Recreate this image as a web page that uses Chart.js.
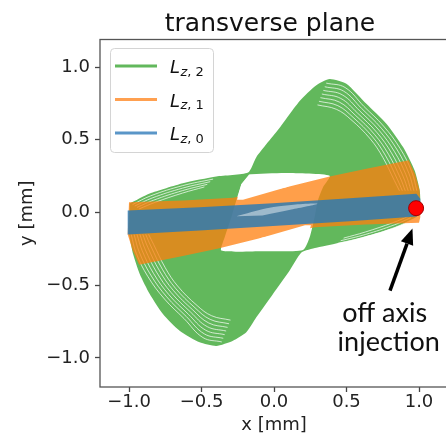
<!DOCTYPE html>
<html>
<head>
<meta charset="utf-8">
<script src="https://cdn.jsdelivr.net/npm/chart.js@4"></script>
<style>
  html, body { margin: 0; padding: 0; overflow: hidden; background: #fff; }
  canvas { display: block; }
</style>
</head>
<body>
<canvas id="chart" width="448" height="436"></canvas>
<script>
const xTicks = [-1.0, -0.5, 0.0, 0.5, 1.0];
const yTicks = [-1.0, -0.5, 0.0, 0.5, 1.0];
const seriesNames = ["Lz,2", "Lz,1", "Lz,0"];

// outer edge of the Lz,2 trajectory band
const greenX = [-0.995, -0.857, -0.628, -0.398, -0.179, -0.122, 0.039, 0.177, 0.292, 0.384, 0.499, 0.637, 0.775, 0.890, 0.970, 1.005, 1.009, 0.993, 0.867, 0.752, 0.522, 0.292, 0.189, 0.108, -0.007, -0.122, -0.191, -0.283, -0.398, -0.513, -0.651, -0.766, -0.857, -0.926, -0.972, -1.000];
const greenY = [0.062, 0.131, 0.202, 0.248, 0.275, 0.381, 0.583, 0.767, 0.875, 0.918, 0.886, 0.748, 0.611, 0.450, 0.289, 0.152, 0.060, -0.021, -0.090, -0.129, -0.193, -0.243, -0.275, -0.399, -0.560, -0.721, -0.824, -0.882, -0.918, -0.893, -0.813, -0.698, -0.560, -0.422, -0.285, -0.147];
// empty middle of Lz,2
const greenHoleX = [-0.172, 0.085, 0.384, 0.338, 0.303, 0.280, 0.246, 0.200, -0.099, -0.363, -0.340, -0.294, -0.260, -0.225];
const greenHoleY = [0.262, 0.271, 0.253, 0.174, 0.083, -0.032, -0.170, -0.257, -0.266, -0.262, -0.170, -0.032, 0.083, 0.197];

// gaps between neighbouring Lz,2 turns (upper right lobe)
const gapsUpRightX = [
  [0.36, 0.49, 0.62, 0.755, 0.87, 0.95, 0.985],
  [0.35, 0.48, 0.605, 0.74, 0.85, 0.93, 0.965],
  [0.34, 0.47, 0.59, 0.725, 0.83, 0.91, 0.945],
  [0.33, 0.46, 0.575, 0.71, 0.81, 0.89, 0.925],
  [0.32, 0.45, 0.56, 0.695, 0.79, 0.87, 0.905],
  [0.31, 0.44, 0.545, 0.68, 0.77, 0.85, 0.885],
  [0.30, 0.43, 0.53, 0.665, 0.75, 0.83, 0.865],
];
const gapsUpRightY = [
  [0.89, 0.86, 0.73, 0.595, 0.44, 0.28, 0.15],
  [0.865, 0.835, 0.715, 0.58, 0.43, 0.27, 0.15],
  [0.84, 0.81, 0.70, 0.565, 0.42, 0.26, 0.15],
  [0.815, 0.785, 0.685, 0.55, 0.41, 0.25, 0.15],
  [0.79, 0.76, 0.67, 0.535, 0.40, 0.24, 0.15],
  [0.765, 0.735, 0.655, 0.52, 0.39, 0.23, 0.15],
  [0.74, 0.71, 0.64, 0.505, 0.38, 0.22, 0.15],
];
// lower left lobe
const gapsLowLeftX = [
  [-0.36, -0.49, -0.62, -0.755, -0.87, -0.95, -0.985],
  [-0.35, -0.48, -0.605, -0.74, -0.85, -0.93, -0.965],
  [-0.34, -0.47, -0.59, -0.725, -0.83, -0.91, -0.945],
  [-0.33, -0.46, -0.575, -0.71, -0.81, -0.89, -0.925],
  [-0.32, -0.45, -0.56, -0.695, -0.79, -0.87, -0.905],
  [-0.31, -0.44, -0.545, -0.68, -0.77, -0.85, -0.885],
  [-0.30, -0.43, -0.53, -0.665, -0.75, -0.83, -0.865],
];
const gapsLowLeftY = [
  [-0.89, -0.86, -0.73, -0.595, -0.44, -0.28, -0.15],
  [-0.865, -0.835, -0.715, -0.58, -0.43, -0.27, -0.15],
  [-0.84, -0.81, -0.70, -0.565, -0.42, -0.26, -0.15],
  [-0.815, -0.785, -0.685, -0.55, -0.41, -0.25, -0.15],
  [-0.79, -0.76, -0.67, -0.535, -0.40, -0.24, -0.15],
  [-0.765, -0.735, -0.655, -0.52, -0.39, -0.23, -0.15],
  [-0.74, -0.71, -0.64, -0.505, -0.38, -0.22, -0.15],
];
// upper left and lower right edges
const gapsUpLeftX = [
  [-0.975, -0.85, -0.63, -0.42],
  [-0.96, -0.84, -0.63, -0.44],
  [-0.945, -0.83, -0.63, -0.46],
  [-0.93, -0.82, -0.63, -0.48],
];
const gapsUpLeftY = [
  [0.055, 0.115, 0.185, 0.23],
  [0.045, 0.10, 0.168, 0.212],
  [0.035, 0.085, 0.151, 0.194],
  [0.025, 0.07, 0.134, 0.176],
];
const gapsLowRightX = [
  [0.975, 0.85, 0.63, 0.42],
  [0.96, 0.84, 0.63, 0.44],
  [0.945, 0.83, 0.63, 0.46],
  [0.93, 0.82, 0.63, 0.48],
];
const gapsLowRightY = [
  [-0.055, -0.115, -0.185, -0.23],
  [-0.045, -0.10, -0.168, -0.212],
  [-0.035, -0.085, -0.151, -0.194],
  [-0.025, -0.07, -0.134, -0.176],
];

// Lz,1 band
const orangeX = [-1.000, -0.628, -0.283, 0.085, 0.384, 0.637, 0.930, 0.975, 1.005, 1.009, 1.000, 0.628, 0.283, -0.085, -0.384, -0.637, -0.930, -0.975, -1.009];
const orangeY = [0.071, 0.083, 0.101, 0.174, 0.248, 0.301, 0.360, 0.260, 0.150, -0.032, -0.071, -0.083, -0.101, -0.174, -0.248, -0.301, -0.360, -0.260, -0.152];
const orangeGapTopX = [-0.168, 0.269, 0.085, -0.214, -0.255, -0.225];
const orangeGapTopY = [0.259, 0.257, 0.174, 0.087, 0.087, 0.193];
const orangeGapBotX = [0.168, -0.269, -0.085, 0.214, 0.255, 0.225];
const orangeGapBotY = [-0.259, -0.257, -0.174, -0.087, -0.087, -0.193];

// Lz,0 band
const blueX = [-1.009, -0.513, -0.007, 0.522, 0.982, 1.009, 1.009, 0.982, 0.522, -0.007, -0.513, -1.009];
const blueY = [0.014, 0.037, 0.064, 0.099, 0.129, 0.094, 0.002, -0.028, -0.060, -0.092, -0.124, -0.152];
// thin open streak of Lz,0 inside the hole
const blueGapX = [-0.26, -0.05, 0.15, 0.30, 0.12, -0.08];
const blueGapY = [-0.025, 0.030, 0.055, 0.060, 0.020, -0.020];

// injection point and its note
const injX = [0.98];
const injY = [0.03];
const arrowFrom = [0.80, -0.537];
const arrowTo = [0.955, -0.11];
const noteLines = ["off axis", "injection"];
const noteX = [0.763, 0.791];
const noteY = [-0.696, -0.895];

const greenCol = "rgb(98, 184, 92)";
const orangeCol = "rgba(255, 127, 14, 0.75)";
const blueCol = "rgba(40, 122, 182, 0.82)";
const gapCol = "rgba(255, 255, 255, 0.7)";
const legendCols = ["rgb(98, 184, 92)", "rgb(255, 160, 80)", "rgb(90, 150, 200)"];

const pts = (xs, ys) => xs.map((v, i) => ({ x: v, y: ys[i] }));
const shape = (xs, ys, col, tension, order) => ({
  data: pts(xs, ys),
  backgroundColor: col,
  borderWidth: 0,
  pointRadius: 0,
  fill: "shape",
  tension: tension,
  order: order,
});
const gapLines = (xs, ys) => xs.map((row, i) => ({
  data: pts(row, ys[i]),
  borderColor: gapCol,
  borderWidth: 1,
  pointRadius: 0,
  fill: false,
  tension: 0.4,
  order: 9,
}));
const fmt = (v) => (v < 0 ? "\u2212" : "") + Math.abs(v).toFixed(1);
const noPad = (s) => { s.paddingTop = 0; s.paddingBottom = 0; s.paddingLeft = 0; s.paddingRight = 0; };

const overlay = {
  id: "overlay",
  afterDatasetsDraw(chart) {
    const { ctx, scales: { x, y }, chartArea: a } = chart;
    ctx.save();
    // arrow
    const x0 = x.getPixelForValue(arrowFrom[0]), y0 = y.getPixelForValue(arrowFrom[1]);
    const x1 = x.getPixelForValue(arrowTo[0]), y1 = y.getPixelForValue(arrowTo[1]);
    const ang = Math.atan2(y1 - y0, x1 - x0);
    const hl = 16, hw = 6.5;
    const bx = x1 - hl * Math.cos(ang), by = y1 - hl * Math.sin(ang);
    ctx.strokeStyle = "#000";
    ctx.lineWidth = 3.5;
    ctx.beginPath();
    ctx.moveTo(x0, y0);
    ctx.lineTo(bx, by);
    ctx.stroke();
    ctx.fillStyle = "#000";
    ctx.beginPath();
    ctx.moveTo(x1, y1);
    ctx.lineTo(bx + hw * Math.sin(ang), by - hw * Math.cos(ang));
    ctx.lineTo(bx - hw * Math.sin(ang), by + hw * Math.cos(ang));
    ctx.closePath();
    ctx.fill();
    // note
    ctx.font = '22px Lato';
    let s = 102 / ctx.measureText(noteLines[1]).width * 22;
    ctx.font = s.toFixed(1) + 'px Lato';
    ctx.fillStyle = "#111";
    ctx.textAlign = "center";
    ctx.textBaseline = "middle";
    noteLines.forEach((t, i) => ctx.fillText(t, x.getPixelForValue(noteX[i]), y.getPixelForValue(noteY[i])));
    // frame
    ctx.strokeStyle = "#555";
    ctx.lineWidth = 1.3;
    ctx.strokeRect(a.left, a.top, a.right - a.left, a.bottom - a.top);
    ctx.restore();
  },
  afterDraw(chart) {
    const { ctx } = chart;
    ctx.save();
    // title
    ctx.fillStyle = "#111";
    ctx.font = '25px "DejaVu Sans"';
    ctx.textAlign = "center";
    ctx.textBaseline = "alphabetic";
    ctx.fillText("transverse plane", 270, 30.7);
    // legend
    const lx = 110, ly = 48, lw = 103, lh = 104;
    ctx.fillStyle = "rgba(255,255,255,0.85)";
    ctx.strokeStyle = "#d4d4d4";
    ctx.lineWidth = 1;
    ctx.beginPath();
    ctx.roundRect(lx + 0.5, ly + 0.5, lw, lh, 4);
    ctx.fill();
    ctx.stroke();
    seriesNames.forEach((name, i) => {
      const yy = 66 + i * 33.5;
      ctx.strokeStyle = legendCols[i];
      ctx.lineWidth = 3;
      ctx.beginPath();
      ctx.moveTo(115, yy);
      ctx.lineTo(157, yy);
      ctx.stroke();
      ctx.fillStyle = "#111";
      ctx.textAlign = "left";
      ctx.font = 'italic 18px "DejaVu Sans"';
      ctx.fillText(name[0], 170, yy + 7.3);
      let px = 170 + ctx.measureText(name[0]).width + 0.5;
      ctx.font = 'italic 13px "DejaVu Sans"';
      ctx.fillText(name[1], px, yy + 9.5);
      px += ctx.measureText(name[1]).width;
      ctx.font = '13px "DejaVu Sans"';
      ctx.fillText(", " + name[3], px, yy + 9.5);
    });
    ctx.restore();
  },
};

new Chart(document.getElementById("chart"), {
  type: "line",
  data: {
    datasets: [
      shape(greenX, greenY, greenCol, 0.2, 10),
      ...gapLines(gapsUpRightX, gapsUpRightY),
      ...gapLines(gapsLowLeftX, gapsLowLeftY),
      ...gapLines(gapsUpLeftX, gapsUpLeftY),
      ...gapLines(gapsLowRightX, gapsLowRightY),
      shape(greenHoleX, greenHoleY, "#fff", 0.2, 8),
      shape(orangeX, orangeY, orangeCol, 0, 7),
      shape(orangeGapTopX, orangeGapTopY, "#fff", 0, 6),
      shape(orangeGapBotX, orangeGapBotY, "#fff", 0, 6),
      shape(blueX, blueY, blueCol, 0, 5),
      shape(blueGapX, blueGapY, "rgba(255,255,255,0.45)", 0.3, 4),
      {
        type: "scatter",
        data: pts(injX, injY),
        pointRadius: 7.5,
        backgroundColor: "#ff0000",
        borderColor: "#a00000",
        borderWidth: 1,
        order: 1,
      },
    ],
  },
  options: {
    responsive: false,
    animation: false,
    layout: { autoPadding: false, padding: { top: 39.5, left: 0, right: 0, bottom: 0 } },
    plugins: { legend: { display: false }, tooltip: { enabled: false } },
    scales: {
      x: {
        type: "linear",
        min: -1.2,
        max: 1.2,
        afterBuildTicks: (s) => { s.ticks = xTicks.map((v) => ({ value: v })); },
        afterFit: (s) => { s.height = 49; noPad(s); },
        border: { display: false },
        grid: { drawOnChartArea: false, tickLength: 5, tickColor: "#444", tickWidth: 1.3 },
        ticks: { autoSkip: false, maxRotation: 0, padding: 0, color: "#222", font: { family: "DejaVu Sans", size: 18 }, callback: fmt },
        title: { display: true, text: "x [mm]", color: "#222", font: { family: "DejaVu Sans", size: 18 }, padding: { top: 0, bottom: 0 } },
      },
      y: {
        type: "linear",
        min: -1.2,
        max: 1.19,
        afterBuildTicks: (s) => { s.ticks = yTicks.map((v) => ({ value: v })); },
        afterFit: (s) => { s.width = 100; noPad(s); },
        border: { display: false },
        grid: { drawOnChartArea: false, tickLength: 5, tickColor: "#444", tickWidth: 1.3 },
        ticks: { autoSkip: false, padding: 5, color: "#222", font: { family: "DejaVu Sans", size: 18 }, callback: fmt },
        title: { display: true, text: "y [mm]", color: "#222", font: { family: "DejaVu Sans", size: 18 }, padding: { top: 17, bottom: 0 } },
      },
    },
  },
  plugins: [overlay],
});
</script>
</body>
</html>
